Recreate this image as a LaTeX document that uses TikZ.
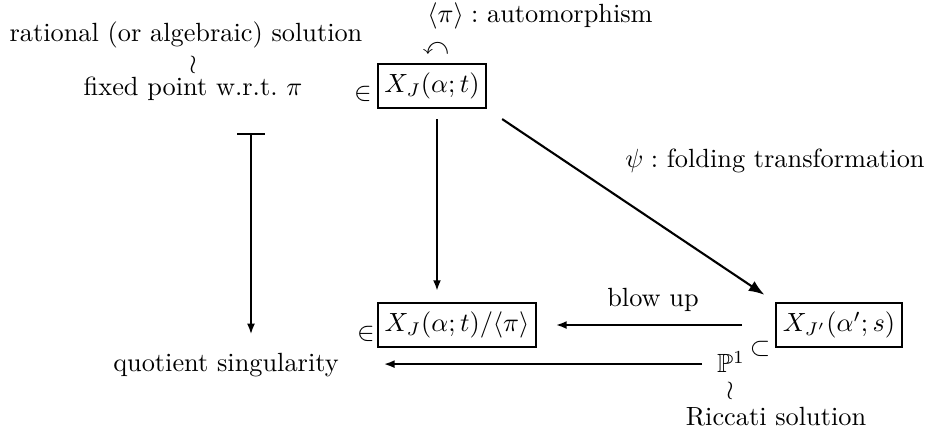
\documentclass[tikz,border=0pt]{standalone}
\usepackage{amsmath}
\usepackage{amssymb}
\usepackage{tikz}
\usetikzlibrary{arrows.meta, positioning}

\begin{document}
\begin{tikzpicture}[
    x=0.38pt, y=-0.38pt,
    space/.style={rectangle, draw, line width=0.9pt, inner xsep=2.5pt, minimum height=15pt},
    lbl/.style={inner sep=0.5pt},
    arr/.style={-{Latex[length=4pt, width=3pt]}, line width=0.7pt},
    longarr/.style={-{Latex[length=6pt, width=4.4pt]}, line width=0.8pt},
    mapsto/.style={{Bar[width=10.6pt]}-{Latex[length=4pt, width=3pt]}, line width=0.7pt},
]
\useasboundingbox (0,0) rectangle (932,434);

% top left: solutions
\node[lbl] (rat) at (186,35) {rational (or algebraic) solution};
\node[lbl] (wr1) at (193,65) {$\wr$};
\node[lbl] (fp) at (193,89) {fixed point w.r.t.\ $\pi$};
\node[lbl] (in1) at (363,94) {$\in$};

% spaces
\node[space] (xj) at (432,86) {$X_J(\alpha;t)$};
\node[lbl] (curv) at (436,49) {$\curvearrowleft$};
\node[lbl] (aut) at (540,16) {$\langle\pi\rangle :$ automorphism};
\node[space] (quot) at (457,325) {$X_J(\alpha;t)/\langle\pi\rangle$};
\node[lbl] (in2) at (366,334) {$\in$};
\node[space] (xjp) at (839,325) {$X_{J'}(\alpha';s)$};
\node[lbl] (psi) at (775,161) {$\psi :$ folding transformation};
\node[lbl] (blow) at (653,300) {blow up};

% bottom
\node[lbl] (sub) at (760,349) {$\subset$};
\node[lbl] (p1) at (731,362) {$\mathbb{P}^1$};
\node[lbl] (wr2) at (730,391) {$\wr$};
\node[lbl] (ric) at (776,417) {Riccati solution};
\node[lbl] (qs) at (226,365) {quotient singularity};

\coordinate (bar) at (251,133);

\draw[mapsto, shorten >=6.5pt] (bar) -- (bar |- qs.north);
\draw[arr, shorten <=3.8pt, shorten >=4.2pt] ([xshift=1.9pt]xj.south) -- ([xshift=1.9pt]xj.south |- quot.north);
\draw[longarr, shorten <=6.8pt, shorten >=4.8pt] (xj.south east) -- (xjp.north west);
\draw[arr, shorten <=12.5pt, shorten >=7.2pt] (xjp.west) -- (quot.east);
\draw[arr, shorten <=5pt, shorten >=16.5pt] ([yshift=-0.8pt]p1.west) -- ([yshift=-0.8pt]p1.west -| qs.east);

\end{tikzpicture}
\end{document}
